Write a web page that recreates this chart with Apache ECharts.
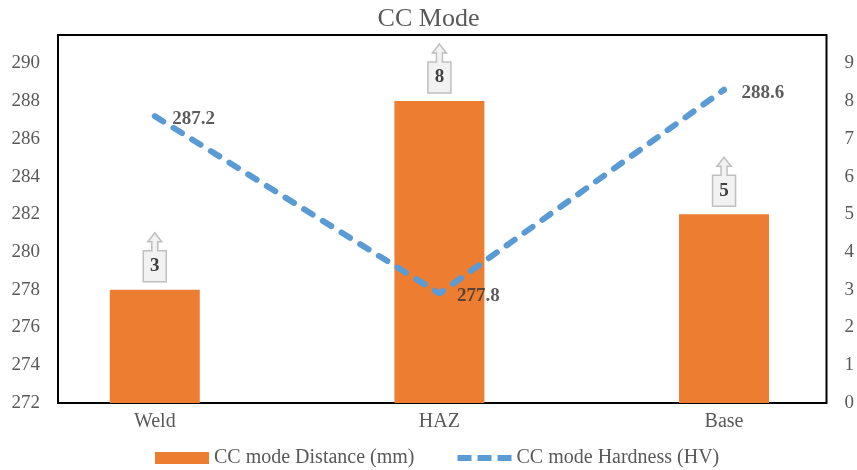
<!DOCTYPE html>
<html>
<head>
<meta charset="utf-8">
<script src="https://cdn.jsdelivr.net/npm/echarts@6/dist/echarts.min.js"></script>
<style>
  html, body { margin: 0; padding: 0; background: #fff; }
  #chart { width: 857px; height: 470px; }
</style>
</head>
<body>
<div id="chart"></div>
<script>
// Measurement locations
const categories = ['Weld', 'HAZ', 'Base'];
// Distance from reference (mm), right axis
const distance = [3, 8, 5];
// Hardness (HV), left axis
const hardness = [287.2, 277.8, 288.6];
// Axis tick labels
const hardnessTicks = [272, 274, 276, 278, 280, 282, 284, 286, 288, 290];
const distanceTicks = [0, 1, 2, 3, 4, 5, 6, 7, 8, 9];

const serif = 'Liberation Serif';
const chart = echarts.init(document.getElementById('chart'));

const barData = categories.map((c, i) => [i, distance[i]]);
const lineData = categories.map((c, i) => [i, hardness[i]]);

// Up-arrow callout that sits above each bar and shows its value
function calloutItem(params, api) {
  const pt = api.coord([api.value(0), api.value(1)]);
  const cx = pt[0];
  const by = pt[1] - 8;
  const hw = 11.5, bh = 31, sw = 3, sh = 9, hwh = 7, hh = 9;
  const points = [
    [cx - hw, by], [cx + hw, by], [cx + hw, by - bh],
    [cx + sw, by - bh], [cx + sw, by - bh - sh], [cx + hwh, by - bh - sh],
    [cx, by - bh - sh - hh],
    [cx - hwh, by - bh - sh], [cx - sw, by - bh - sh], [cx - sw, by - bh],
    [cx - hw, by - bh]
  ];
  return {
    type: 'group',
    children: [
      {
        type: 'polygon',
        shape: { points: points },
        style: { fill: '#f2f2f2', stroke: '#bfbfbf', lineWidth: 1.5 }
      },
      {
        type: 'text',
        style: {
          x: cx, y: by - bh / 2,
          text: String(api.value(1)),
          align: 'center', verticalAlign: 'middle',
          font: 'bold 19px "Liberation Serif"',
          fill: '#404040'
        }
      }
    ]
  };
}

const hardnessDash = { color: '#5b9bd5', width: 6, type: [10, 12], cap: 'round' };

chart.setOption({
  animation: false,
  backgroundColor: '#ffffff',
  title: {
    text: 'CC Mode',
    left: 'center',
    top: 6,
    padding: 0,
    textStyle: { fontFamily: serif, fontSize: 26, fontWeight: 'normal', color: '#595959' }
  },
  legend: {
    left: 155,
    top: 448,
    padding: 0,
    itemWidth: 54,
    itemHeight: 12,
    itemGap: 40,
    textStyle: { fontFamily: serif, fontSize: 20, color: '#595959' },
    data: [
      { name: 'CC mode Distance (mm)', icon: 'rect' },
      {
        name: 'CC mode Hardness (HV)',
        itemStyle: { opacity: 0 },
        lineStyle: { width: 6, type: [14, 6], cap: 'butt' }
      }
    ]
  },
  grid: {
    left: 58, right: 24, top: 35, bottom: 67,
    show: true,
    borderColor: '#000000',
    borderWidth: 2,
    backgroundColor: 'transparent'
  },
  xAxis: {
    type: 'value',
    min: -0.34,
    max: 2.36,
    splitLine: { show: false },
    axisLine: { show: false },
    axisTick: { show: false },
    axisLabel: {
      customValues: categories.map((c, i) => i),
      formatter: v => categories[Math.round(v)],
      margin: 9,
      fontFamily: serif, fontSize: 20, color: '#595959'
    }
  },
  yAxis: [
    {
      type: 'value',
      min: hardnessTicks[0],
      max: 291.5,
      interval: 2,
      splitLine: { show: false },
      axisLine: { show: false },
      axisTick: { show: false },
      axisLabel: {
        customValues: hardnessTicks,
        margin: 18,
        fontFamily: serif, fontSize: 19, color: '#595959'
      }
    },
    {
      type: 'value',
      min: distanceTicks[0],
      max: 9.75,
      interval: 1,
      position: 'right',
      splitLine: { show: false },
      axisLine: { show: false },
      axisTick: { show: false },
      axisLabel: {
        customValues: distanceTicks,
        margin: 18,
        fontFamily: serif, fontSize: 19, color: '#595959'
      }
    }
  ],
  series: [
    {
      name: 'CC mode Distance (mm)',
      type: 'bar',
      yAxisIndex: 1,
      barWidth: 90,
      data: barData,
      itemStyle: { color: '#ed7d31' },
      z: 2
    },
    {
      name: 'callouts',
      type: 'custom',
      yAxisIndex: 1,
      data: barData,
      renderItem: calloutItem,
      z: 3,
      silent: true
    },
    {
      name: 'CC mode Hardness (HV)',
      type: 'line',
      yAxisIndex: 0,
      data: lineData,
      symbol: 'none',
      color: '#5b9bd5',
      lineStyle: hardnessDash,
      z: 4
    },
    {
      // value labels for the hardness points
      name: 'hardness labels',
      type: 'scatter',
      yAxisIndex: 0,
      data: lineData,
      symbol: 'circle',
      symbolSize: 1,
      itemStyle: { color: 'rgba(0,0,0,0)' },
      silent: true,
      label: {
        show: true,
        position: 'right',
        distance: 17,
        offset: [0, 3],
        formatter: p => p.value[1].toFixed(1),
        fontFamily: serif, fontSize: 19, fontWeight: 'bold', color: '#333333'
      },
      z: 5
    }
  ]
});
</script>
</body>
</html>
